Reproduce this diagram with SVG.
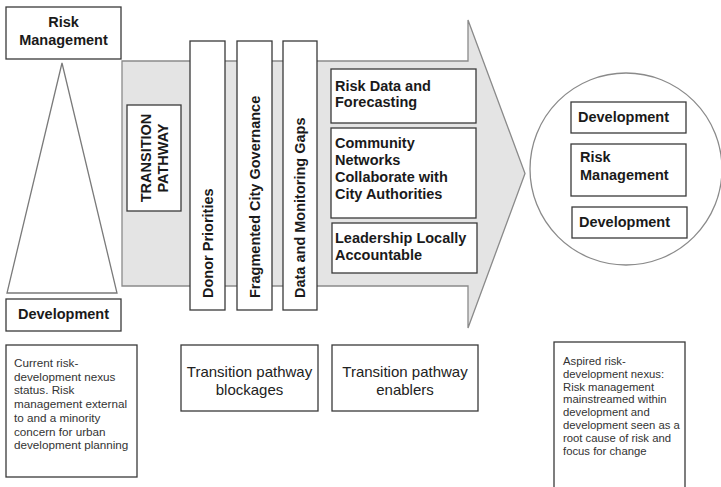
<svg xmlns="http://www.w3.org/2000/svg" width="721" height="487" viewBox="0 0 721 487">
<style>
.bx{fill:#fff;stroke:#3a3a3a;stroke-width:1.3}
.b{font-family:"Liberation Sans",Arial,sans-serif;font-weight:bold;font-size:14.5px;fill:#1a1a1a}
.r{font-family:"Liberation Sans",Arial,sans-serif;font-size:15px;fill:#222}
.s{font-family:"Liberation Sans",Arial,sans-serif;font-size:11.7px;fill:#333}
.s2{font-family:"Liberation Sans",Arial,sans-serif;font-size:11.3px;fill:#333}
</style>
<rect width="721" height="487" fill="#fff"/>
<g id="connectors">
<polygon id="arrow" points="122,61 468,61 468,20 525,173.5 468,328 468,286 122,286" fill="#e4e4e4" stroke="#8a8a8a" stroke-width="1.3"/>
<polygon id="triangle" points="62,63 117,293 7,293" fill="#fff" stroke="#7a7a7a" stroke-width="1.3"/>
<circle id="circle" cx="626" cy="169" r="96" fill="#fff" stroke="#8a8a8a" stroke-width="1.3"/>
</g>
<g id="risk-management">
<rect class="bx" x="6" y="7" width="115" height="52"/>
<text class="b" x="63.5" y="27" text-anchor="middle">Risk</text>
<text class="b" x="63.5" y="45" text-anchor="middle">Management</text>
</g>
<g id="development">
<rect class="bx" x="6" y="299" width="115" height="32"/>
<text class="b" x="63.5" y="319" text-anchor="middle">Development</text>
</g>
<g id="current-status">
<rect class="bx" x="6" y="345" width="131" height="132"/>
<text class="s" x="14" y="367">Current risk-</text>
<text class="s" x="14" y="380.7">development nexus</text>
<text class="s" x="14" y="394.4">status. Risk</text>
<text class="s" x="14" y="408.1">management external</text>
<text class="s" x="14" y="421.8">to and a minority</text>
<text class="s" x="14" y="435.5">concern for urban</text>
<text class="s" x="14" y="449.2">development planning</text>
</g>
<g id="transition-pathway">
<rect class="bx" x="127" y="105" width="54" height="106"/>
<text class="b" transform="translate(151,158) rotate(-90)" text-anchor="middle">TRANSITION</text>
<text class="b" transform="translate(167.5,158) rotate(-90)" text-anchor="middle">PATHWAY</text>
</g>
<g id="donor-priorities">
<rect class="bx" x="190" y="41" width="35" height="269"/>
<text class="b" transform="translate(212.5,298) rotate(-90)">Donor Priorities</text>
</g>
<g id="fragmented-governance">
<rect class="bx" x="237" y="41" width="35" height="269"/>
<text class="b" transform="translate(259.5,298) rotate(-90)">Fragmented City Governance</text>
</g>
<g id="data-gaps">
<rect class="bx" x="283" y="41" width="34" height="269"/>
<text class="b" transform="translate(305,298) rotate(-90)">Data and Monitoring Gaps</text>
</g>
<g id="risk-data">
<rect class="bx" x="331" y="69" width="145" height="54"/>
<text class="b" x="335" y="91">Risk Data and</text>
<text class="b" x="335" y="107">Forecasting</text>
</g>
<g id="community-networks">
<rect class="bx" x="331" y="128" width="145" height="90"/>
<text class="b" x="335" y="148">Community</text>
<text class="b" x="335" y="165">Networks</text>
<text class="b" x="335" y="182">Collaborate with</text>
<text class="b" x="335" y="199">City Authorities</text>
</g>
<g id="leadership">
<rect class="bx" x="332" y="223" width="145" height="50"/>
<text class="b" x="335" y="243">Leadership Locally</text>
<text class="b" x="335" y="260">Accountable</text>
</g>
<g id="circle-development-1">
<rect class="bx" x="571" y="102" width="115" height="31"/>
<text class="b" x="578" y="122">Development</text>
</g>
<g id="circle-risk-management">
<rect class="bx" x="571" y="144" width="115" height="52"/>
<text class="b" x="580" y="162">Risk</text>
<text class="b" x="580" y="180">Management</text>
</g>
<g id="circle-development-2">
<rect class="bx" x="572" y="207" width="115" height="31"/>
<text class="b" x="579" y="227">Development</text>
</g>
<g id="blockages">
<rect class="bx" x="181" y="345" width="137" height="66"/>
<text class="r" x="249.5" y="377" text-anchor="middle">Transition pathway</text>
<text class="r" x="249.5" y="395" text-anchor="middle">blockages</text>
</g>
<g id="enablers">
<rect class="bx" x="332" y="345" width="146" height="66"/>
<text class="r" x="405" y="377" text-anchor="middle">Transition pathway</text>
<text class="r" x="405" y="395" text-anchor="middle">enablers</text>
</g>
<g id="aspired-status">
<rect class="bx" x="554" y="342" width="131" height="150"/>
<text class="s2" x="563" y="365">Aspired risk-</text>
<text class="s2" x="563" y="377.8">development nexus:</text>
<text class="s2" x="563" y="390.6">Risk management</text>
<text class="s2" x="563" y="403.4">mainstreamed within</text>
<text class="s2" x="563" y="416.2">development and</text>
<text class="s2" x="563" y="429">development seen as a</text>
<text class="s2" x="563" y="441.8">root cause of risk and</text>
<text class="s2" x="563" y="454.6">focus for change</text>
</g>
</svg>
